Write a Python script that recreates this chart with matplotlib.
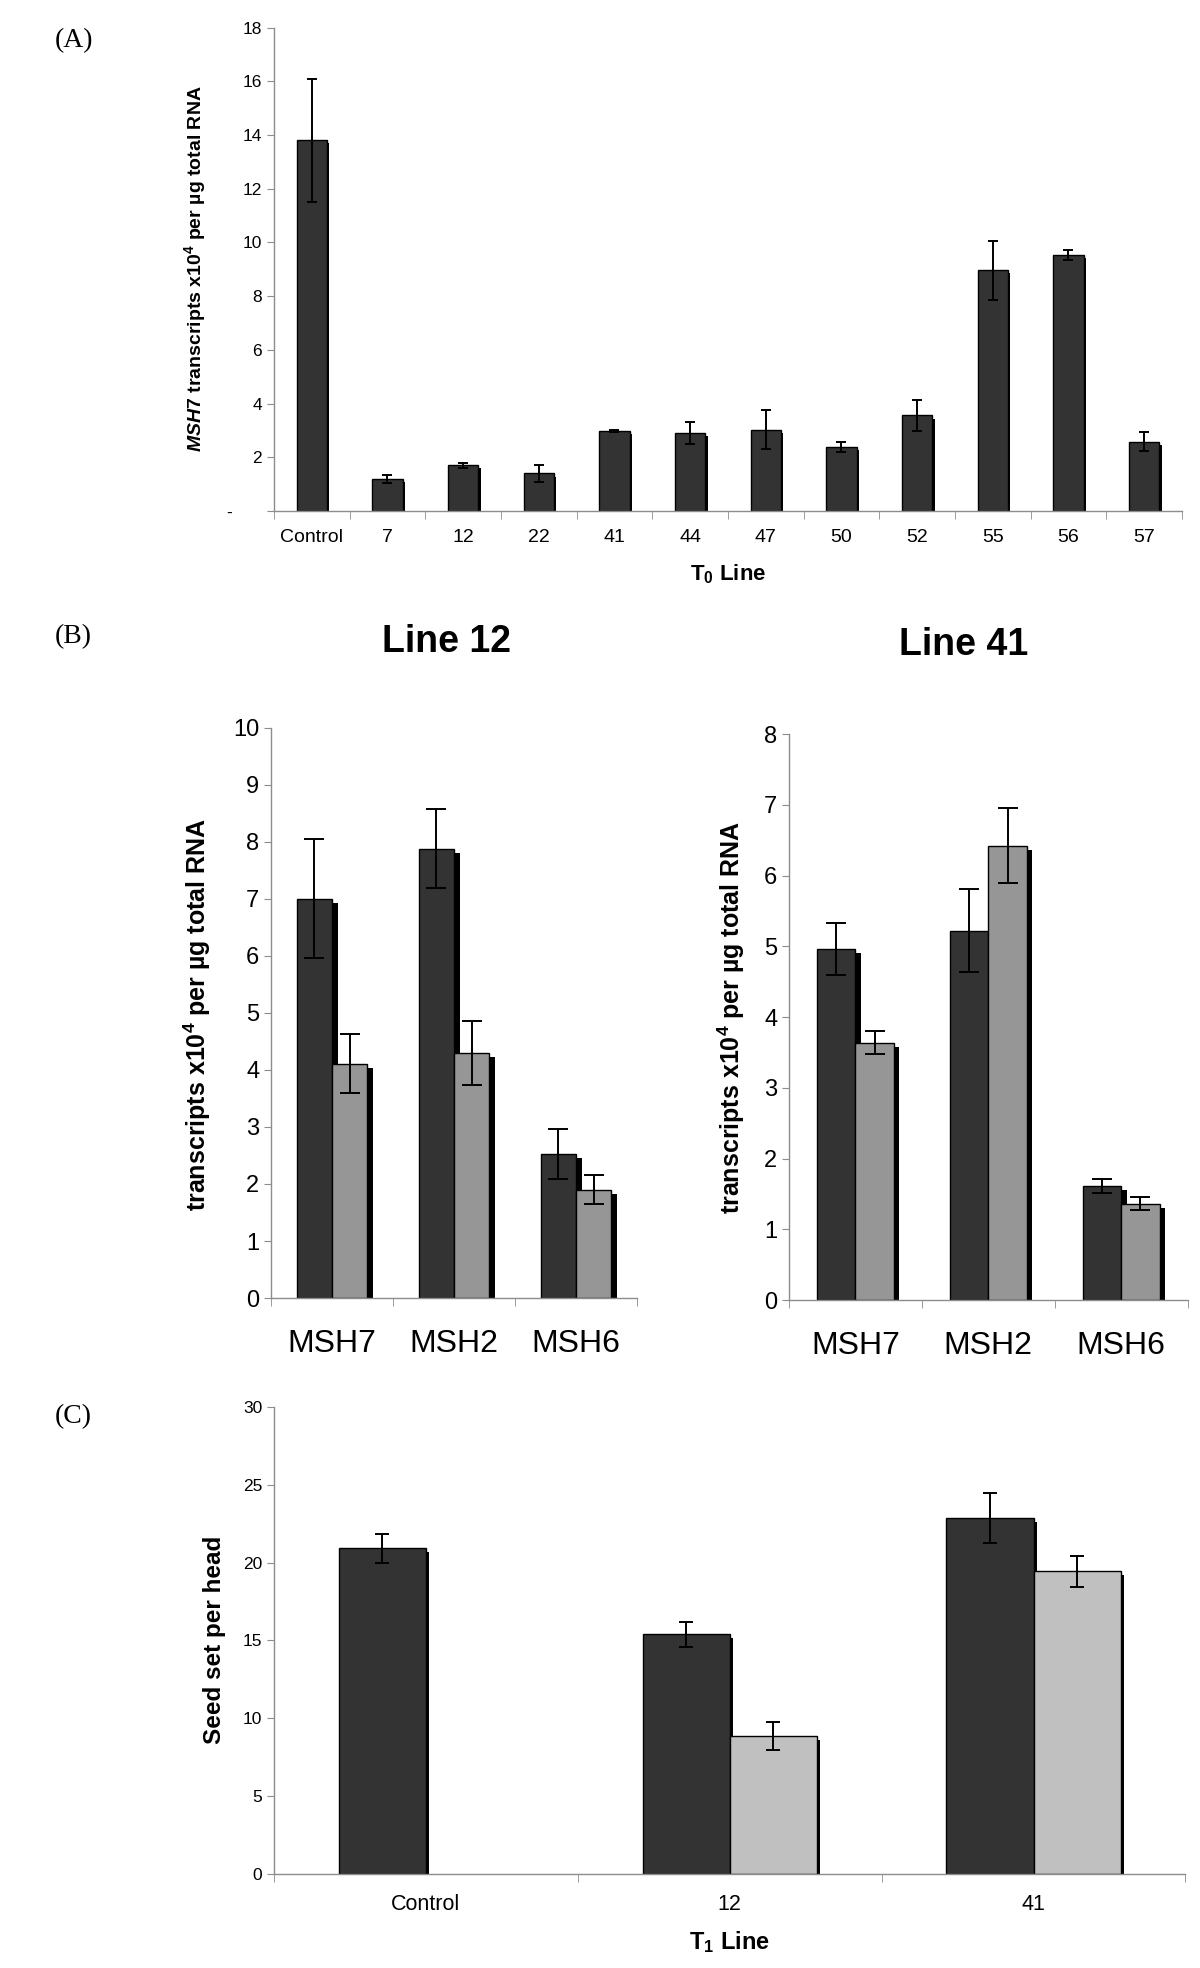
import matplotlib
matplotlib.use("Agg")
import matplotlib.pyplot as plt
import matplotlib.transforms as mtransforms
import numpy as np

plt.rcParams['font.family'] = ['Liberation Sans', 'DejaVu Sans']
plt.rcParams['mathtext.fontset'] = 'custom'
plt.rcParams['mathtext.rm'] = 'Liberation Sans:bold'
plt.rcParams['mathtext.bf'] = 'Liberation Sans:bold'
plt.rcParams['mathtext.it'] = 'Liberation Sans:italic:bold'

# (A) MSH7 transcripts in T0 lines
t0_lines = ['Control', '7', '12', '22', '41', '44', '47', '50', '52', '55', '56', '57']
t0_msh7 = [13.8, 1.2, 1.7, 1.4, 2.98, 2.9, 3.03, 2.38, 3.56, 8.97, 9.53, 2.58]
t0_err = [2.3, 0.15, 0.1, 0.3, 0.05, 0.4, 0.72, 0.18, 0.56, 1.1, 0.19, 0.35]

# (B) transcripts in lines 12 and 41
genes = ['MSH7', 'MSH2', 'MSH6']
l12_dark = [7.0, 7.88, 2.53]
l12_dark_err = [1.04, 0.7, 0.44]
l12_grey = [4.11, 4.29, 1.9]
l12_grey_err = [0.52, 0.56, 0.25]
l41_dark = [4.96, 5.22, 1.61]
l41_dark_err = [0.37, 0.59, 0.1]
l41_grey = [3.64, 6.42, 1.36]
l41_grey_err = [0.16, 0.53, 0.09]

# (C) seed set per head in T1 lines
t1_lines = ['Control', '12', '41']
seed_dark = [20.93, 15.39, 22.86]
seed_dark_err = [0.94, 0.82, 1.63]
seed_light = [np.nan, 8.83, 19.44]
seed_light_err = [np.nan, 0.9, 0.98]

DARK = '#333333'
GREY = '#969696'
LIGHT = '#c0c0c0'
SPINE = '#8c8c8c'

fig = plt.figure(figsize=(12, 19.68), dpi=100)


def style_axes(ax, n, ytick_size, xtick_size, ymax, ystep):
    for s in ['top', 'right']:
        ax.spines[s].set_visible(False)
    for s in ['left', 'bottom']:
        ax.spines[s].set_color(SPINE)
        ax.spines[s].set_linewidth(1.0)
    ax.set_xlim(-0.5, n - 0.5)
    ax.set_ylim(0, ymax)
    ax.set_yticks(np.arange(0, ymax + 0.001, ystep))
    ax.set_xticks(np.arange(n))
    ax.set_xticks(np.arange(n + 1) - 0.5, minor=True)
    ax.tick_params(axis='x', which='major', length=0, labelsize=xtick_size)
    ax.tick_params(axis='x', which='minor', length=6, color=SPINE, direction='out')
    ax.tick_params(axis='y', length=5, color=SPINE, direction='out', labelsize=ytick_size)


def shadow_bars(ax, x, h, w, dx, dy):
    off = mtransforms.ScaledTranslation(dx / 72, -dy / 72, fig.dpi_scale_trans)
    ax.bar(x, h, w, color='black', edgecolor='black', linewidth=0,
           transform=ax.transData + off, zorder=1)


def bars(ax, x, h, err, w, color, dx, dy, capsize=4):
    shadow_bars(ax, x, h, w, dx, dy)
    ax.bar(x, h, w, color=color, edgecolor='black', linewidth=1.0, zorder=2)
    ax.errorbar(x, h, yerr=err, fmt='none', ecolor='black', elinewidth=1.4,
                capsize=capsize, capthick=1.4, zorder=3)


# ---------- panel A ----------
axA = fig.add_axes([0.2283, 0.7403, 0.7567, 0.2457])
xa = np.arange(len(t0_lines))
bars(axA, xa, t0_msh7, t0_err, 0.40, DARK, 1.8, 2.2, capsize=3.5)
style_axes(axA, len(t0_lines), 12.5, 14, 18, 2)
axA.set_yticklabels(['-      '] + [str(v) for v in range(2, 19, 2)])
axA.set_xticklabels(t0_lines)
axA.tick_params(axis='x', which='major', pad=13)
fig.text(195 / 1200, 1 - 269 / 1968,
         r'$\mathit{MSH7}$ transcripts x10$^{\mathbf{4}}$ per µg total RNA',
         rotation=90, ha='center', va='center', fontsize=14, fontweight='bold')
fig.text(728 / 1200, 1 - 574 / 1968, r'T$_{\mathbf{0}}$ Line',
         ha='center', va='center', fontsize=16, fontweight='bold')

# ---------- panel B ----------
xb = np.arange(len(genes))
wb = 0.29
axB1 = fig.add_axes([0.2258, 0.3404, 0.305, 0.2899])
bars(axB1, xb - wb / 2, l12_dark, l12_dark_err, wb, DARK, 4, 2.9, capsize=7)
bars(axB1, xb + wb / 2, l12_grey, l12_grey_err, wb, GREY, 4, 2.9, capsize=7)
style_axes(axB1, 3, 17, 23, 10, 1)
axB1.set_xticklabels(genes)
axB1.tick_params(axis='x', which='major', pad=22)

axB2 = fig.add_axes([0.6575, 0.3394, 0.3321, 0.2876])
bars(axB2, xb - wb / 2, l41_dark, l41_dark_err, wb, DARK, 4, 2.9, capsize=7)
bars(axB2, xb + wb / 2, l41_grey, l41_grey_err, wb, GREY, 4, 2.9, capsize=7)
style_axes(axB2, 3, 17, 23, 8, 1)
axB2.set_xticklabels(genes)
axB2.tick_params(axis='x', which='major', pad=22)

ylab_b = r'transcripts x10$^{\mathbf{4}}$ per µg total RNA'
fig.text(197 / 1200, 1 - 1014 / 1968, ylab_b, rotation=90, ha='center', va='center',
         fontsize=18, fontweight='bold')
fig.text(731 / 1200, 1 - 1017 / 1968, ylab_b, rotation=90, ha='center', va='center',
         fontsize=18, fontweight='bold')
fig.text(446 / 1200, 1 - 642 / 1968, 'Line 12', ha='center', va='center',
         fontsize=27, fontweight='bold')
fig.text(964 / 1200, 1 - 645 / 1968, 'Line 41', ha='center', va='center',
         fontsize=27, fontweight='bold')

# ---------- panel C ----------
axC = fig.add_axes([0.2283, 0.0480, 0.7596, 0.2370])
xc = np.arange(len(t1_lines))
wc = 0.287
bars(axC, xc - wc / 2, seed_dark, seed_dark_err, wc, DARK, 2.4, 2.7, capsize=5)
bars(axC, xc + wc / 2, seed_light, seed_light_err, wc, LIGHT, 2.4, 2.7, capsize=5)
style_axes(axC, 3, 12.5, 15.5, 30, 5)
axC.set_xticklabels(t1_lines)
axC.tick_params(axis='x', which='major', pad=15)
fig.text(214 / 1200, 1 - 1640 / 1968, 'Seed set per head', rotation=90,
         ha='center', va='center', fontsize=17.5, fontweight='bold')
fig.text(729 / 1200, 1 - 1942 / 1968, r'T$_{\mathbf{1}}$ Line',
         ha='center', va='center', fontsize=17, fontweight='bold')

# panel letters
for lab, y in [('(A)', 41), ('(B)', 637), ('(C)', 1417)]:
    fig.text(55 / 1200, 1 - y / 1968, lab, ha='left', va='center',
             fontsize=20, family='Liberation Serif')

fig.savefig('out.png', dpi=100, facecolor='white')
